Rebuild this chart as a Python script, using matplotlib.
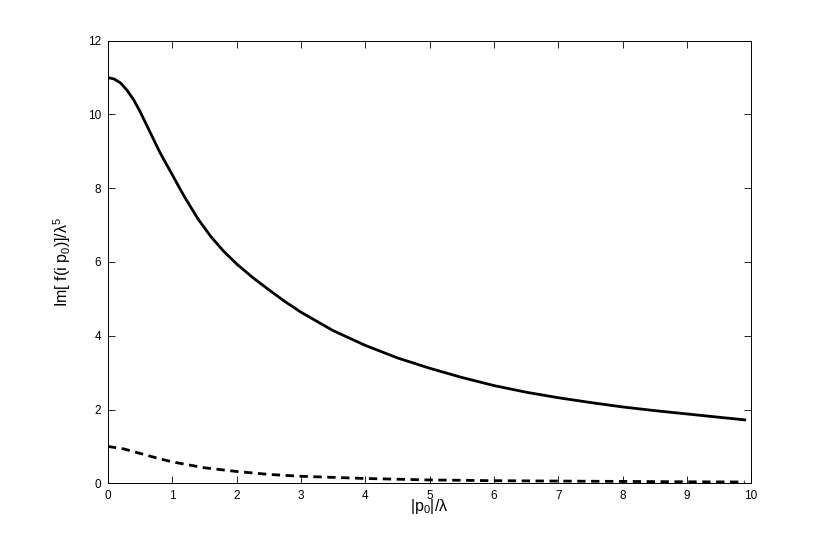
import numpy as np
import matplotlib
matplotlib.use("Agg")
import matplotlib.pyplot as plt

plt.rcParams['font.family'] = ['Liberation Sans', 'DejaVu Sans']
plt.rcParams['mathtext.fontset'] = 'custom'
plt.rcParams['mathtext.rm'] = 'Liberation Sans'
plt.rcParams['mathtext.it'] = 'Liberation Sans'
plt.rcParams['mathtext.default'] = 'regular'

# values
p_solid = [0, 0.1, 0.2, 0.3, 0.4, 0.5, 0.6, 0.7, 0.8, 0.9, 1.0, 1.1, 1.2, 1.4,
           1.6, 1.8, 2.0, 2.25, 2.5, 2.75, 3.0, 3.5, 4.0, 4.5, 5.0, 5.5, 6.0,
           6.5, 7.0, 7.5, 8.0, 8.5, 9.0, 9.5, 9.9]
im_solid = [11.0, 10.96, 10.85, 10.65, 10.40, 10.08, 9.72, 9.36, 9.00, 8.68,
            8.37, 8.05, 7.74, 7.17, 6.69, 6.29, 5.95, 5.58, 5.25, 4.93, 4.64,
            4.14, 3.74, 3.40, 3.12, 2.87, 2.65, 2.47, 2.32, 2.19, 2.07, 1.97,
            1.88, 1.79, 1.72]

p_dash = [0, 0.25, 0.5, 0.75, 1.0, 1.5, 2.0, 2.5, 3.0, 4.0, 5.0, 6.0, 7.0,
          8.0, 9.0, 9.9]
im_dash = [1.0, 0.93, 0.81, 0.69, 0.58, 0.42, 0.32, 0.24, 0.19, 0.13, 0.09,
           0.07, 0.06, 0.05, 0.04, 0.035]

xticks = np.arange(0, 11, 1)
yticks = np.arange(0, 13, 2)

fig = plt.figure(figsize=(8.3, 5.43), dpi=100)
ax = fig.add_axes([0.13, 0.11, 0.775, 0.815])

ax.plot(p_solid, im_solid, color='black', lw=2)
ax.plot(p_dash, im_dash, color='black', lw=2, ls=(0, (3, 2)))

ax.set_xlim(0, 10)
ax.set_ylim(0, 12)
ax.set_xticks(xticks)
ax.set_yticks(yticks)
ax.tick_params(direction='in', top=True, right=True, length=5, width=0.6,
               labelsize=8.5, pad=5)
for s in ax.spines.values():
    s.set_linewidth(0.7)

ax.set_xlabel(r'|p$_0$|/λ', fontsize=11.5)
ax.set_ylabel(r'Im[ f(i p$_0$)]/λ$^5$', fontsize=11.5)
ax.xaxis.set_label_coords(0.5, -0.03)
ax.yaxis.set_label_coords(-0.055, 0.5)

fig.savefig('out.png', dpi=100)
